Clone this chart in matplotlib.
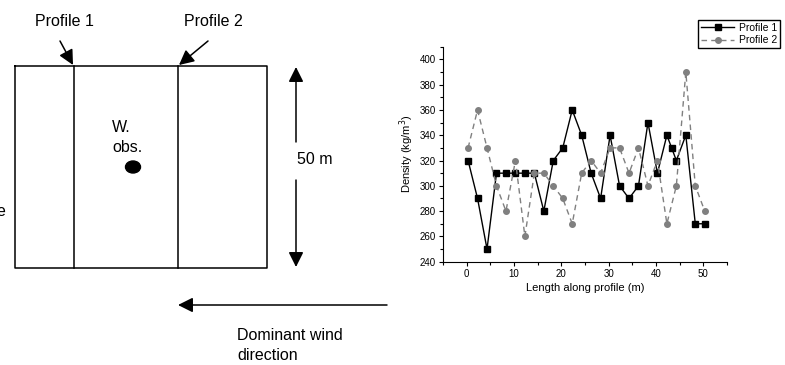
import matplotlib.pyplot as plt
import numpy as np
from matplotlib.ticker import MultipleLocator

plt.rcParams['font.family'] = ['Liberation Sans', 'DejaVu Sans']

# density profiles along the two transects
x1 = [0.3, 2.3, 4.3, 6.3, 8.3, 10.3, 12.3, 14.3, 16.3, 18.3, 20.3, 22.3, 24.3,
      26.3, 28.3, 30.3, 32.3, 34.3, 36.3, 38.3, 40.3, 42.3, 43.3, 44.3, 46.3,
      48.3, 50.3]
dens1 = [320, 290, 250, 310, 310, 310, 310, 310, 280, 320, 330, 360, 340,
         310, 290, 340, 300, 290, 300, 350, 310, 340, 330, 320, 340, 270, 270]
x2 = [0.3, 2.3, 4.3, 6.3, 8.3, 10.3, 12.3, 14.3, 16.3, 18.3, 20.3, 22.3, 24.3,
      26.3, 28.3, 30.3, 32.3, 34.3, 36.3, 38.3, 40.3, 42.3, 44.3, 46.3, 48.3,
      50.3]
dens2 = [330, 360, 330, 300, 280, 320, 260, 310, 310, 300, 290, 270, 310,
         320, 310, 330, 330, 310, 330, 300, 320, 270, 300, 390, 300, 280]

W, H = 785, 365
fig = plt.figure(figsize=(W / 100, H / 100), dpi=100)

# sketch of the site, drawn in pixel coordinates
sk = fig.add_axes([0, 0, 1, 1])
sk.set_xlim(0, W)
sk.set_ylim(H, 0)
sk.axis('off')

lw = 1.1
sk.plot([15, 267, 267, 15, 15], [66, 66, 268, 268, 66], color='black', lw=lw)
sk.plot([74, 74], [66, 268], color='black', lw=lw)
sk.plot([178, 178], [66, 268], color='black', lw=lw)

fs = 11.5
sk.text(64, 21, 'Profile 1', fontsize=fs, ha='center', va='center')
sk.text(213, 21, 'Profile 2', fontsize=fs, ha='center', va='center')
arr = dict(arrowstyle='-|>,head_length=0.9,head_width=0.45', color='black', lw=1.1,
           shrinkA=0, shrinkB=0)
sk.annotate('', xy=(73, 65), xytext=(60, 41), arrowprops=arr)
sk.annotate('', xy=(179, 65), xytext=(208, 41), arrowprops=arr)

sk.text(112, 127, 'W.', fontsize=fs, ha='left', va='center')
sk.text(112, 147, 'obs.', fontsize=fs, ha='left', va='center')
sk.add_patch(plt.matplotlib.patches.Ellipse((133, 167), 15, 12, color='black'))

# 50 m scale arrow
sk.annotate('', xy=(296, 67), xytext=(296, 142), arrowprops=arr)
sk.annotate('', xy=(296, 267), xytext=(296, 180), arrowprops=arr)
sk.text(297, 160, '50 m', fontsize=fs, ha='left', va='center')

# wind direction arrow
sk.annotate('', xy=(178, 305), xytext=(387, 305), arrowprops=arr)
sk.text(237, 335, 'Dominant wind', fontsize=fs, ha='left', va='center')
sk.text(237, 355, 'direction', fontsize=fs, ha='left', va='center')
sk.text(5, 212, 'e', fontsize=fs, ha='right', va='center')

# density chart
ax = fig.add_axes([443 / W, (H - 261.7) / H, (727 - 443) / W, (261.7 - 46.7) / H])
ax.plot(x1, dens1, color='black', lw=1, marker='s', markersize=4.2,
        label='Profile 1')
ax.plot(x2, dens2, color='#808080', lw=1, ls=(0, (4, 3)), marker='o',
        markersize=4, label='Profile 2')
ax.set_xlim(-5, 55)
ax.set_ylim(240, 410)
ax.xaxis.set_major_locator(MultipleLocator(10))
ax.xaxis.set_minor_locator(MultipleLocator(5))
ax.yaxis.set_major_locator(MultipleLocator(20))
ax.yaxis.set_minor_locator(MultipleLocator(10))
ax.set_yticks(np.arange(240, 401, 20))
for s in ['top', 'right']:
    ax.spines[s].set_visible(False)
ax.tick_params(labelsize=7, length=3, width=0.8, direction='out', pad=2)
ax.tick_params(which='minor', length=2, width=0.8)
ax.set_xlabel('Length along profile (m)', fontsize=8, labelpad=3)
ax.set_ylabel('Density (kg/m$^3$)', fontsize=8, labelpad=3)

fig.legend(loc='upper right', bbox_to_anchor=(780 / W, 1 - 20 / H),
           fontsize=7.5, frameon=True, fancybox=False, edgecolor='black',
           framealpha=1, handlelength=3.2, borderpad=0.3, labelspacing=0.2,
           handletextpad=0.4, borderaxespad=0)

fig.savefig('out.png', dpi=100)
